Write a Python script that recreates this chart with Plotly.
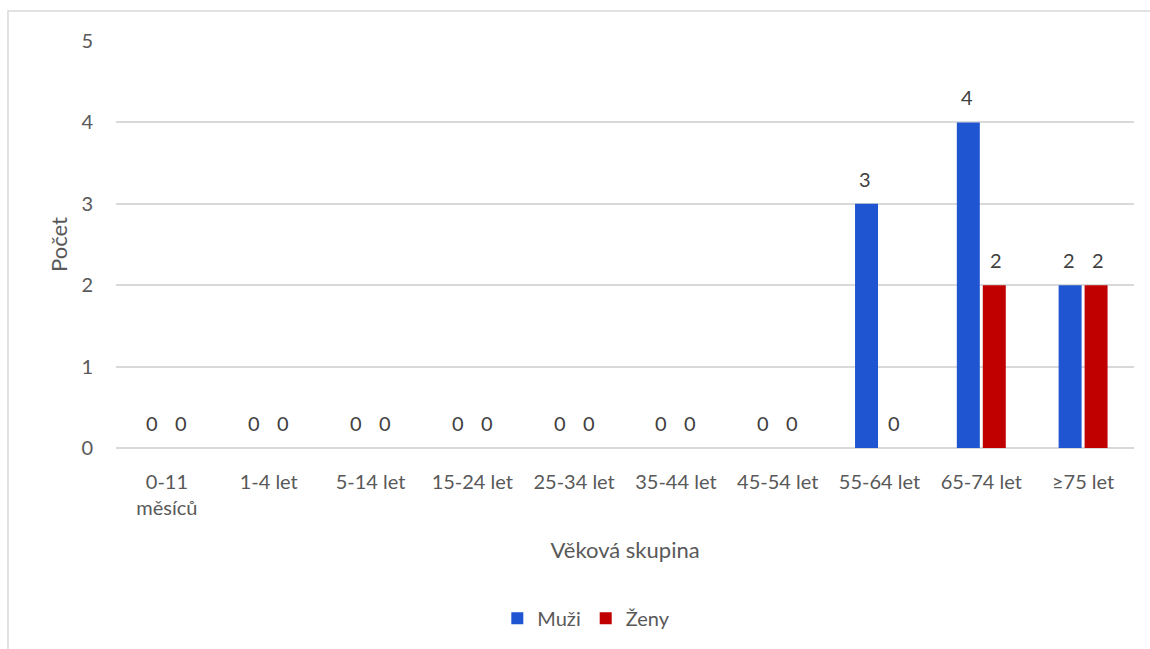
import plotly.graph_objects as go

# Age groups and counts by sex
categories = ["0-11<br>měsíců", "1-4 let", "5-14 let", "15-24 let", "25-34 let",
              "35-44 let", "45-54 let", "55-64 let", "65-74 let", "≥75 let"]
muzi = [0, 0, 0, 0, 0, 0, 0, 3, 4, 2]
zeny = [0, 0, 0, 0, 0, 0, 0, 0, 2, 2]

BLUE = "#1F55D1"
RED = "#C00000"
FONT = "Lato, 'Open Sans', sans-serif"

fig = go.Figure()
fig.add_trace(go.Bar(name="Muži", x=categories, y=muzi, marker_color=BLUE,
                     marker_line_width=0))
fig.add_trace(go.Bar(name="Ženy", x=categories, y=zeny, marker_color=RED,
                     marker_line_width=0))

# value labels above each bar
for vals, dx in ((muzi, -14.5), (zeny, 14.5)):
    for c, v in zip(categories, vals):
        fig.add_annotation(x=c, y=v, text=str(v), showarrow=False,
                           xshift=dx, yshift=25, yanchor="middle",
                           font=dict(family=FONT, size=20, color="#404040"))

# light frame around the chart
fig.add_shape(type="rect", xref="paper", yref="paper",
              x0=-0.1061, x1=1.05, y0=-0.7, y1=1.0735,
              line=dict(color="#D9D9D9", width=1.5), layer="below")

fig.update_layout(
    width=1150, height=649,
    margin=dict(l=116, r=16, t=41, b=200),
    plot_bgcolor="white", paper_bgcolor="white",
    barmode="group", bargap=0.49, bargroupgap=0.115,
    font=dict(family=FONT, size=20, color="#595959"),
    showlegend=True,
    legend=dict(orientation="h", x=0.462, xanchor="center", y=-0.415,
                yanchor="middle", font=dict(size=20, color="#595959"),
                itemwidth=30, traceorder="normal"),
    xaxis=dict(type="category", showgrid=False, showline=False, ticks="",
               ticklabelstandoff=20,
               title=dict(text="Věková skupina", font=dict(size=22, color="#595959"),
                          standoff=24)),
    yaxis=dict(range=[0, 5], dtick=1, showgrid=True, gridcolor="#D9D9D9",
               gridwidth=1.5, zeroline=True, zerolinecolor="#D9D9D9",
               zerolinewidth=1.5, showline=False, ticks="",
               ticklabelstandoff=22,
               title=dict(text="Počet", font=dict(size=22, color="#595959"),
                          standoff=7)),
)

fig.write_html("out.html")
